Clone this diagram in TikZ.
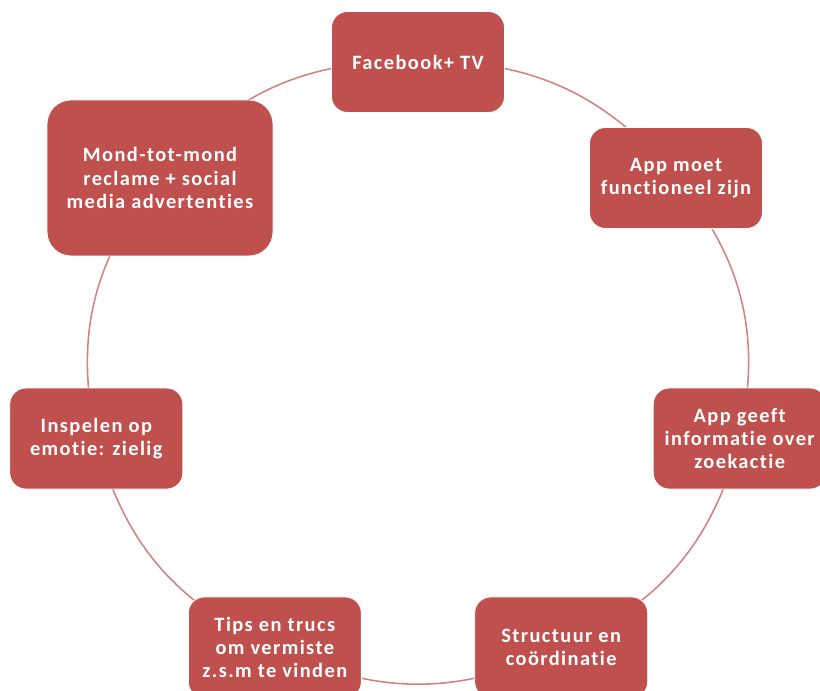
\documentclass[tikz,border=0pt]{standalone}
\usepackage{fontspec}
\setmainfont{Carlito}[Ligatures=NoCommon, LetterSpace=7]
\usetikzlibrary{backgrounds}
\definecolor{rood}{HTML}{C0504D}
\definecolor{lijn}{HTML}{D2827F}

\begin{document}
\begin{tikzpicture}[
    blok/.style={draw=white, line width=0.6pt, fill=rood, text=white,
        rounded corners=0.4cm, minimum width=4.325cm, minimum height=2.525cm,
        align=center, font=\bfseries\fontsize{14.5}{16.5}\selectfont},
    grootblok/.style={blok, minimum width=5.65cm, minimum height=3.9cm,
        rounded corners=0.6cm},
    verbind/.style={lijn, line width=1.1pt}
]
    \useasboundingbox (0,0) rectangle (20.5,17.25);

    % Blokken op een ellips rond het midden
    \foreach \naam/\k/\stijl/\tekst in {
        fb/0/blok/{Facebook+ TV},
        appa/1/blok/{App moet\\functioneel zijn},
        appb/2/blok/{App geeft\\informatie over\\zoekactie},
        struc/3/blok/{Structuur en\\coördinatie},
        tips/4/blok/{Tips en trucs\\om vermiste\\z.s.m te vinden},
        insp/5/blok/{Inspelen op\\emotie: zielig},
        mond/6/grootblok/{Mond-tot-mond\\reclame + social\\media advertenties}}{
        \pgfmathsetmacro{\hoek}{90-\k*360/7}
        \node[\stijl] (\naam) at ({10.45+8.25*cos(\hoek)}, {8+7.7*sin(\hoek)}) {\tekst};
    }

    \begin{scope}[on background layer]
        \foreach \van/\naar in {fb/appa, appa/appb, appb/struc, struc/tips,
                tips/insp, insp/mond, mond/fb}
            \draw[verbind] (\van.center) to[bend left=26] (\naar.center);
    \end{scope}
\end{tikzpicture}
\end{document}
